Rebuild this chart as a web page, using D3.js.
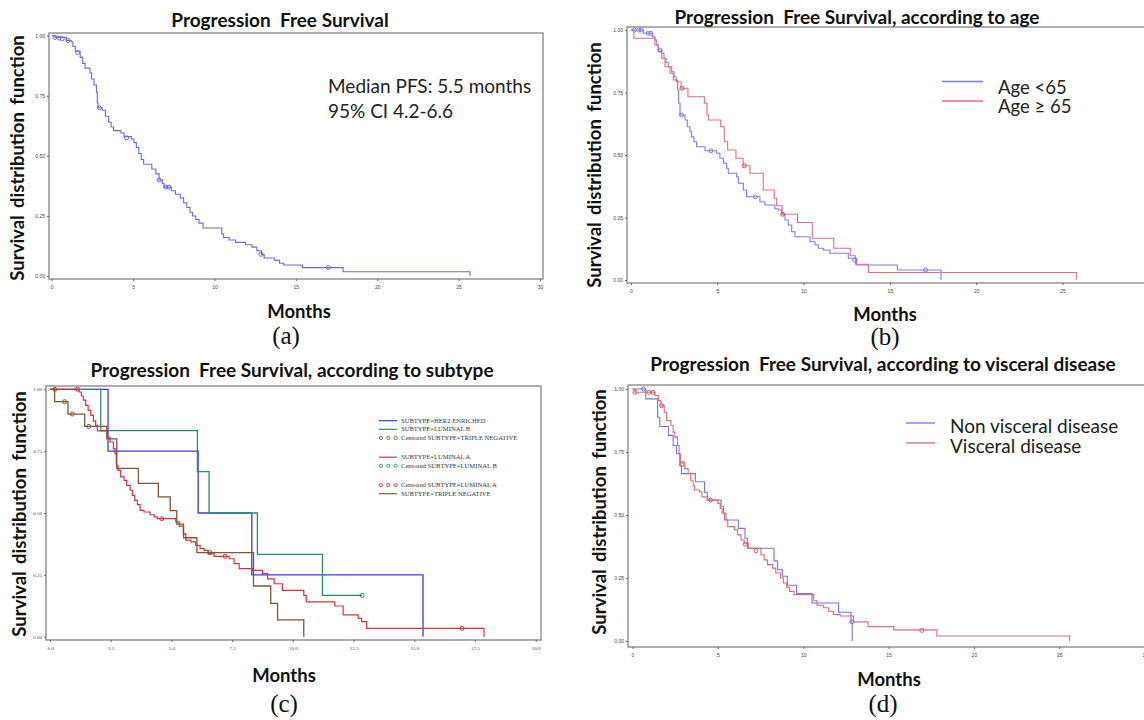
<!DOCTYPE html>
<html>
<head>
<meta charset="utf-8">
<script src="https://cdn.jsdelivr.net/npm/d3@7"></script>
<style>
  body { margin: 0; background: #fff; }
  svg { display: block; }
</style>
</head>
<body>
<svg id="fig" width="1144" height="720"></svg>
<script>
// ---- DATA: Kaplan-Meier steps as [month, survival after the step] ----

// (a) all patients
const pfsAll = [[0,1],[0.2,0.993],[0.9,0.98],[1.2,0.975],[1.3,0.955],[1.45,0.935],[1.75,0.91],[1.9,0.885],
  [2.05,0.865],[2.35,0.845],[2.45,0.82],[2.6,0.795],[2.75,0.765],[2.8,0.72],[2.85,0.70],[3.1,0.69],[3.3,0.665],
  [3.5,0.64],[3.65,0.62],[3.8,0.605],[4.25,0.595],[4.45,0.58],[4.9,0.57],[5.05,0.555],[5.2,0.535],[5.35,0.51],
  [5.5,0.485],[5.65,0.465],[6.15,0.445],[6.4,0.425],[6.6,0.40],[6.8,0.385],[6.9,0.37],[7.35,0.355],[7.6,0.34],
  [7.9,0.325],[8.1,0.305],[8.3,0.285],[8.5,0.265],[8.65,0.25],[8.85,0.235],[9.05,0.22],[9.3,0.20],[10.45,0.175],
  [10.55,0.16],[10.9,0.15],[11.3,0.14],[11.9,0.13],[12.3,0.12],[12.6,0.105],[12.9,0.09],[13.05,0.075],[13.7,0.065],
  [14.0,0.053],[14.25,0.046],[15.4,0.035],[17.9,0.018],[25.7,0]];
const pfsAllCensor = [[0.2,0.993],[0.45,0.99],[0.65,0.987],[1.0,0.98],[1.6,0.93],[2.93,0.70],[4.6,0.575],
  [6.6,0.40],[7.0,0.37],[7.2,0.37],[12.85,0.09],[17.0,0.035]];

// (b) by age
const ageUnder65 = [[0,1],[0.71,0.987],[1.25,0.973],[1.39,0.96],[1.49,0.94],[1.58,0.92],[1.78,0.907],[1.91,0.887],
  [2.03,0.87],[2.16,0.853],[2.36,0.833],[2.49,0.813],[2.61,0.80],[2.70,0.76],[2.76,0.707],[2.84,0.66],[3.13,0.64],
  [3.26,0.613],[3.42,0.593],[3.51,0.573],[3.65,0.553],[3.80,0.533],[4.29,0.517],[4.96,0.507],[5.15,0.487],
  [5.35,0.467],[5.54,0.447],[5.64,0.427],[6.12,0.413],[6.22,0.387],[6.51,0.36],[6.70,0.333],[7.47,0.313],
  [7.76,0.30],[8.34,0.285],[8.53,0.28],[8.73,0.264],[8.92,0.24],[9.11,0.22],[9.31,0.193],[9.50,0.173],
  [10.37,0.153],[10.66,0.14],[10.85,0.127],[11.14,0.12],[11.53,0.107],[12.59,0.087],[13.07,0.06],[15.43,0.04],[17.96,0]];
const ageUnder65Censor = [[0.2,1],[0.45,1],[0.6,1],[1.0,0.987],[1.15,0.987],[1.68,0.92],[2.93,0.66],[4.63,0.517],
  [7.2,0.333],[12.97,0.08],[17.07,0.04]];
const ageOver65 = [[0,1],[0.17,0.967],[1.39,0.94],[1.58,0.913],[1.78,0.887],[1.97,0.853],[2.26,0.827],[2.45,0.80],
  [2.64,0.793],[2.9,0.767],[3.3,0.733],[4.25,0.707],[4.4,0.66],[4.48,0.64],[5.2,0.613],[5.4,0.553],[5.6,0.52],
  [6.08,0.487],[6.5,0.457],[6.89,0.427],[7.66,0.36],[8.3,0.327],[8.44,0.297],[8.76,0.263],[9.65,0.23],[10.5,0.167],
  [11.75,0.127],[12.7,0.097],[13.0,0.063],[13.75,0.03],[25.8,0]];
const ageOver65Censor = [[2.95,0.767],[6.56,0.457],[8.78,0.263]];

// (c) by subtype
const her2Enriched = [[0,1],[2.39,0.75],[6.1,0.5],[8.31,0.25],[15.36,0]];
const luminalB = [[0,1],[2.09,0.833],[6.07,0.667],[6.55,0.5],[8.54,0.333],[11.22,0.167],[12.85,0.167]];
const luminalBCensor = [[12.85,0.167]];
const tripleNeg = [[0,1],[0.19,0.95],[0.74,0.90],[1.43,0.85],[2.34,0.80],[2.75,0.68],[3.64,0.62],[4.46,0.565],
  [4.95,0.51],[5.22,0.455],[5.5,0.40],[6.05,0.34],[8.38,0.205],[9.09,0.135],[9.37,0.068],[10.45,0]];
const tripleNegCensor = [[0.2,1],[0.6,0.95],[0.92,0.90],[1.6,0.85],[6.58,0.34]];
const luminalA = [[0,1],[1.2,0.989],[1.29,0.973],[1.37,0.956],[1.47,0.935],[1.57,0.915],[1.68,0.895],[1.79,0.871],
  [1.88,0.854],[1.95,0.832],[2.36,0.807],[2.47,0.787],[2.61,0.76],[2.68,0.74],[2.73,0.693],[2.8,0.672],[2.91,0.646],
  [3.05,0.632],[3.16,0.612],[3.3,0.592],[3.39,0.571],[3.49,0.551],[3.6,0.534],[3.71,0.511],[3.87,0.504],[4.12,0.493],
  [4.29,0.484],[4.42,0.477],[5.18,0.464],[5.32,0.447],[5.49,0.416],[5.59,0.39],[5.8,0.383],[6.0,0.369],[6.18,0.356],
  [6.35,0.349],[6.51,0.336],[6.76,0.325],[7.38,0.315],[7.58,0.295],[7.79,0.275],[8.34,0.268],[8.75,0.255],
  [8.96,0.234],[9.23,0.214],[9.57,0.187],[10.45,0.167],[10.55,0.141],[11.73,0.124],[12.07,0.088],[12.69,0.074],
  [12.83,0.061],[13.04,0.034],[17.87,0]];
const luminalACensor = [[1.13,1],[4.6,0.477],[7.21,0.325],[16.97,0.034]];

// (d) by visceral disease
const nonVisceral = [[0,1],[0.78,0.961],[1.47,0.888],[1.6,0.851],[2.1,0.816],[2.38,0.776],[2.58,0.743],[2.77,0.697],
  [2.87,0.664],[3.68,0.632],[4.22,0.59],[4.38,0.559],[5.19,0.533],[5.33,0.507],[5.48,0.48],[6.2,0.447],[6.59,0.408],
  [6.74,0.368],[8.29,0.318],[8.5,0.283],[8.78,0.257],[9.07,0.221],[9.61,0.188],[10.52,0.151],[12.07,0.114],
  [12.8,0.076],[12.87,0]];
const nonVisceralCensor = [[0.64,1],[12.85,0.076]];
const visceral = [[0,1],[0.15,0.987],[1.32,0.974],[1.51,0.954],[1.67,0.934],[1.86,0.908],[2.0,0.875],[2.25,0.855],
  [2.38,0.829],[2.48,0.809],[2.64,0.776],[2.73,0.743],[2.81,0.71],[3.06,0.684],[3.26,0.664],[3.41,0.638],[3.55,0.616],
  [3.64,0.599],[3.93,0.592],[4.07,0.572],[4.38,0.559],[5.0,0.546],[5.14,0.526],[5.25,0.507],[5.39,0.48],[5.58,0.454],
  [5.97,0.441],[6.16,0.421],[6.36,0.401],[6.55,0.388],[6.78,0.368],[7.52,0.342],[7.71,0.322],[7.91,0.303],[8.2,0.289],
  [8.39,0.27],[8.68,0.25],[8.84,0.23],[9.03,0.213],[9.2,0.197],[9.46,0.184],[10.62,0.16],[10.81,0.142],[11.2,0.132],
  [11.49,0.118],[11.78,0.105],[12.17,0.099],[12.95,0.076],[13.8,0.057],[15.3,0.044],[17.83,0.02],[25.6,0]];
const visceralCensor = [[0.15,0.987],[0.95,0.987],[1.2,0.987],[1.7,0.934],[2.9,0.70],[4.57,0.559],[6.6,0.384],
  [7.23,0.358],[16.95,0.042]];

// tick labels
const monthTicks30 = [0, 5, 10, 15, 20, 25, 30];
const monthTicks20 = [0, 2.5, 5, 7.5, 10, 12.5, 15, 17.5, 20];
const survTicks = [0, 0.25, 0.5, 0.75, 1];

// legend texts
const ageLabels = ['Age <65', 'Age \u2265 65'];
const visceralLabels = ['Non visceral disease', 'Visceral disease'];
const subtypeLegend = [
  { kind: 'line', color: '#3a3af5', text: 'SUBTYPE=HER2 ENRICHED' },
  { kind: 'line', color: '#2b8a7a', text: 'SUBTYPE=LUMINAL B' },
  { kind: 'dots', color: '#7d5836', text: 'Censored SUBTYPE=TRIPLE NEGATIVE' },
  { kind: 'gap' },
  { kind: 'line', color: '#d8323f', text: 'SUBTYPE=LUMINAL A' },
  { kind: 'dots', color: '#2b8a7a', text: 'Censored SUBTYPE=LUMINAL B' },
  { kind: 'gap' },
  { kind: 'dots', color: '#d8323f', text: 'Censored SUBTYPE=LUMINAL A' },
  { kind: 'line', color: '#7d5836', text: 'SUBTYPE=TRIPLE NEGATIVE' }
];

// ---- DRAWING ----
const svg = d3.select('#fig');
const sans = 'Lato, "Open Sans", sans-serif';
const serif = '"Liberation Serif", "Times New Roman", serif';

function drawPanel(p) {
  const x = d3.scaleLinear().domain([0, p.xMax]).range([p.xr[0], p.xr[1]]);
  const y = d3.scaleLinear().domain([0, 1]).range([p.yr[0], p.yr[1]]);
  const g = svg.append('g');

  g.append('rect')
    .attr('x', p.box[0]).attr('y', p.box[1])
    .attr('width', p.box[2] - p.box[0]).attr('height', p.box[3] - p.box[1])
    .attr('fill', 'none').attr('stroke', '#8d8d8d').attr('stroke-width', 1.4);

  const xAxis = d3.axisBottom(x).tickValues(p.xTicks).tickSize(2).tickPadding(4).tickFormat(p.xFmt);
  const yAxis = d3.axisLeft(y).tickValues(survTicks).tickSize(2).tickPadding(2).tickFormat(d3.format('.2f'));

  g.append('g').attr('transform', `translate(0,${p.box[3]})`).call(xAxis)
    .call(a => a.select('.domain').remove())
    .call(a => a.selectAll('text').attr('font-size', p.tickSize).attr('font-family', p.tickFont).attr('fill', '#444'))
    .call(a => a.selectAll('line').attr('stroke', '#666'));
  g.append('g').attr('transform', `translate(${p.box[0]},0)`).call(yAxis)
    .call(a => a.select('.domain').remove())
    .call(a => a.selectAll('text').attr('font-size', p.tickSize).attr('font-family', p.tickFont).attr('fill', '#444'))
    .call(a => a.selectAll('line').attr('stroke', '#666'));

  const line = d3.line().x(d => x(d[0])).y(d => y(d[1])).curve(d3.curveStepAfter);

  p.series.forEach(s => {
    g.append('path').datum(s.data).attr('d', line)
      .attr('fill', 'none').attr('stroke', s.color).attr('stroke-width', s.width || 1.1);
  });
  p.censors.forEach(c => {
    g.selectAll(null).data(c.data).enter().append('circle')
      .attr('cx', d => x(d[0])).attr('cy', d => y(d[1])).attr('r', c.r || 2)
      .attr('fill', 'none').attr('stroke', c.color).attr('stroke-width', 1);
  });

  // title, axis labels, panel letter
  g.append('text').text(p.title).attr('x', p.titlePos[0]).attr('y', p.titlePos[1])
    .attr('text-anchor', 'middle').attr('font-family', sans).attr('font-weight', 700)
    .attr('font-size', 19).attr('fill', '#111').style('white-space', 'pre');
  g.append('text').text('Survival distribution function')
    .attr('transform', `translate(${p.ylabPos[0]},${p.ylabPos[1]}) rotate(-90)`)
    .attr('text-anchor', 'middle').attr('font-family', sans).attr('font-weight', 700)
    .attr('font-size', 18.5).attr('word-spacing', 3).attr('fill', '#111');
  g.append('text').text('Months').attr('x', p.monthsPos[0]).attr('y', p.monthsPos[1])
    .attr('text-anchor', 'middle').attr('font-family', sans).attr('font-weight', 700)
    .attr('font-size', 18.5).attr('fill', '#111');
  g.append('text').text(p.letter).attr('x', p.letterPos[0]).attr('y', p.letterPos[1])
    .attr('text-anchor', 'middle').attr('font-family', serif)
    .attr('font-size', 25).attr('fill', '#111');

  return { g, x, y };
}

// (a)
const pa = drawPanel({
  box: [49, 33, 543, 279], xMax: 30, xr: [51.7, 540], yr: [276, 35.7],
  xTicks: monthTicks30, xFmt: d3.format('d'), tickSize: 5, tickFont: '"Liberation Sans", Arial, sans-serif',
  series: [{ data: pfsAll, color: '#6a6ae2' }],
  censors: [{ data: pfsAllCensor, color: '#6a6ae2' }],
  title: 'Progression  Free Survival', titlePos: [280, 27],
  ylabPos: [24, 158], monthsPos: [299, 318], letter: '(a)', letterPos: [286, 344]
});
pa.g.append('text').attr('x', 328).attr('y', 93).attr('font-family', sans)
  .attr('font-size', 19).attr('fill', '#222').text('Median PFS: 5.5 months');
pa.g.append('text').attr('x', 328).attr('y', 118).attr('font-family', sans)
  .attr('font-size', 19).attr('fill', '#222').text('95% CI 4.2-6.6');

// (b)
const pb = drawPanel({
  box: [627, 27, 1150, 283], xMax: 30, xr: [631, 1148.8], yr: [280, 30],
  xTicks: monthTicks30, xFmt: d3.format('d'), tickSize: 5, tickFont: '"Liberation Sans", Arial, sans-serif',
  series: [{ data: ageUnder65, color: '#7c7cf2' }, { data: ageOver65, color: '#e0707e' }],
  censors: [{ data: ageUnder65Censor, color: '#7c7cf2' }, { data: ageOver65Censor, color: '#c8505e' }],
  title: 'Progression  Free Survival, according to age', titlePos: [857, 23.5],
  ylabPos: [601, 165], monthsPos: [885, 321], letter: '(b)', letterPos: [885, 345]
});
const ageColors = ['#7c7cf2', '#e0707e'];
ageLabels.forEach((t, i) => {
  pb.g.append('line').attr('x1', 942).attr('x2', 983).attr('y1', 81.5 + i * 19.5).attr('y2', 81.5 + i * 19.5)
    .attr('stroke', ageColors[i]).attr('stroke-width', 1.3);
  pb.g.append('text').attr('x', 998).attr('y', 94 + i * 18.5).attr('font-family', sans)
    .attr('font-size', 18.5).attr('fill', '#222').text(t);
});

// (c)
const subtypeSeries = [
  { data: her2Enriched, color: '#3a3af5', width: 1.3 },
  { data: luminalB, color: '#2b8a7a', width: 1.3 },
  { data: luminalA, color: '#d8323f', width: 1.2 },
  { data: tripleNeg, color: '#7d5836', width: 1.3 }
];
const pc = drawPanel({
  box: [46, 386, 541, 640], xMax: 20, xr: [50, 535.7], yr: [636.7, 389.3],
  xTicks: monthTicks20, xFmt: d3.format('.1f'), tickSize: 5, tickFont: serif,
  series: subtypeSeries,
  censors: [{ data: tripleNegCensor, color: '#7d5836' }, { data: luminalBCensor, color: '#2b8a7a' },
            { data: luminalACensor, color: '#d8323f' }],
  title: 'Progression  Free Survival, according to subtype', titlePos: [292, 377],
  ylabPos: [26, 514], monthsPos: [284, 682], letter: '(c)', letterPos: [284, 712]
});
let ly = 420.7;
subtypeLegend.forEach(it => {
  if (it.kind === 'gap') { ly += 10.7; return; }
  if (it.kind === 'line') {
    pc.g.append('line').attr('x1', 379).attr('x2', 397).attr('y1', ly).attr('y2', ly)
      .attr('stroke', it.color).attr('stroke-width', 1.2);
  } else {
    [381, 388.3, 395.6].forEach(cx => pc.g.append('circle').attr('cx', cx).attr('cy', ly).attr('r', 1.6)
      .attr('fill', 'none').attr('stroke', it.color).attr('stroke-width', 0.9));
  }
  pc.g.append('text').attr('x', 401).attr('y', ly + 2).attr('font-family', serif)
    .attr('font-size', 6.6).attr('fill', '#333').text(it.text);
  ly += 8.6;
});

// (d)
const pd = drawPanel({
  box: [628, 385, 1150, 647], xMax: 30, xr: [632.5, 1144.6], yr: [641, 389],
  xTicks: monthTicks30, xFmt: d3.format('d'), tickSize: 5, tickFont: '"Liberation Sans", Arial, sans-serif',
  series: [{ data: nonVisceral, color: '#7474f0' }, { data: visceral, color: '#e06a78' }],
  censors: [{ data: nonVisceralCensor, color: '#7474f0' }, { data: visceralCensor, color: '#d85868' }],
  title: 'Progression  Free Survival, according to visceral disease', titlePos: [883, 370.5],
  ylabPos: [606, 512], monthsPos: [889, 686], letter: '(d)', letterPos: [883, 712]
});
const visColors = ['#7474f0', '#e06a78'];
visceralLabels.forEach((t, i) => {
  pd.g.append('line').attr('x1', 906).attr('x2', 935).attr('y1', 423 + i * 20).attr('y2', 423 + i * 20)
    .attr('stroke', visColors[i]).attr('stroke-width', 1.3);
  pd.g.append('text').attr('x', 950).attr('y', 433 + i * 19.5).attr('font-family', sans)
    .attr('font-size', 19).attr('fill', '#222').text(t);
});
</script>
</body>
</html>
